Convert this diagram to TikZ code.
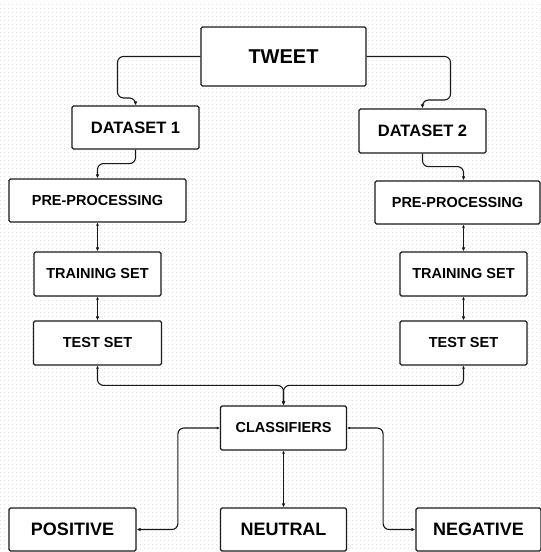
\documentclass[tikz,border=0pt]{standalone}
\usepackage{fontspec}
\setmainfont{Liberation Sans}
\usepackage{tikz}
\usetikzlibrary{arrows.meta,calc}
\tikzset{every node/.append style={align=center}}
\definecolor{flowink}{RGB}{25,25,25}
\definecolor{flowdot}{RGB}{228,228,228}
\tikzset{
  box/.style={draw=flowink, line width=1.2pt, rounded corners=1.5pt, fill=white,
    inner sep=0pt, minimum width=127pt, minimum height=44pt, font=\bfseries},
  link/.style={draw=flowink, line width=1.1pt, rounded corners=6pt,
    -{Latex[length=4pt,width=3.6pt]}},
  duplex/.style={link, {Latex[length=3pt,width=3pt]}-{Latex[length=4pt,width=3.6pt]}}
}
\newcommand{\fsz}[1]{\fontsize{#1}{#1}\selectfont}

\begin{document}
\begin{tikzpicture}[x=1pt, y=-1pt]

  \useasboundingbox (0,0) rectangle (541,552);
  \fill[white] (0,0) rectangle (541,552);

  % Dotted background
  \foreach \y in {4,8,...,552}
    \draw[flowdot, line width=0.7pt, dash pattern=on 0.7pt off 3.3pt] (0,\y) -- (541,\y);

  % Source
  \node[box, minimum width=165pt, minimum height=59pt, font=\bfseries\fsz{20}]
    (tweet) at (283.5,56.5) {TWEET};

  % Two datasets
  \node[box, minimum height=43pt, font=\bfseries\fsz{16.5}] (ds1) at (135.5,127.5) {DATASET 1};
  \node[box, font=\bfseries\fsz{16.5}] (ds2) at (422.5,131) {DATASET 2};

  % Left branch
  \node[box, minimum width=177pt, minimum height=43pt, font=\bfseries\fsz{14.5}]
    (pre1) at (97.5,200.5) {PRE-PROCESSING};
  \node[box, font=\bfseries\fsz{14.5}] (train1) at (97.5,274) {TRAINING SET};
  \node[box, minimum width=128pt, font=\bfseries\fsz{14.5}] (test1) at (97.5,343) {TEST SET};

  % Right branch
  \node[box, minimum width=165pt, minimum height=43pt, font=\bfseries\fsz{14.5}]
    (pre2) at (457.5,202.5) {PRE-PROCESSING};
  \node[box, font=\bfseries\fsz{14.5}] (train2) at (463.5,274) {TRAINING SET};
  \node[box, font=\bfseries\fsz{14.5}] (test2) at (463.5,343) {TEST SET};

  % Classifiers and outcomes
  \node[box, minimum width=126pt, font=\bfseries\fsz{14.5}] (clf) at (283.5,428) {CLASSIFIERS};
  \node[box, minimum height=43pt, font=\bfseries\fsz{18}] (pos) at (72.5,529.5) {POSITIVE};
  \node[box, minimum width=126pt, minimum height=43pt, font=\bfseries\fsz{18}] (neu) at (283.5,529.5) {NEUTRAL};
  \node[box, minimum width=125pt, minimum height=43pt, font=\bfseries\fsz{18}] (neg) at (478.5,529.5) {NEGATIVE};

  % Tweet to datasets
  \draw[link] (tweet.west) -| (117.5,98) -| (ds1.north);
  \draw[link] (tweet.east) -| (450.5,100) -| (ds2.north);

  % Datasets to pre-processing
  \draw[link] (ds1.south) -- ++(0,14) -| (pre1.north);
  \draw[link] (ds2.south) -- ++(0,13) -| (pre2.north -| train2.north);

  % Down each branch
  \draw[duplex] (pre1.south) -- (train1.north);
  \draw[duplex] (train1.south) -- (test1.north);
  \draw[duplex] (pre2.south -| train2.north) -- (train2.north);
  \draw[duplex] (train2.south) -- (test2.north);

  % Merge into classifiers
  \draw[duplex] (test1.south) |- ($(clf.north)+(0,-20)$) -- (clf.north);
  \draw[duplex] (test2.south) |- ($(clf.north)+(0,-20)$) -- (clf.north);

  % Classifiers to outcomes
  \draw[duplex] (clf.west) -- ++(-42,0) |- (pos.east);
  \draw[duplex] (clf.south) -- (neu.north);
  \draw[duplex] (clf.east) -- ++(36,0) |- (neg.west);

\end{tikzpicture}
\end{document}
